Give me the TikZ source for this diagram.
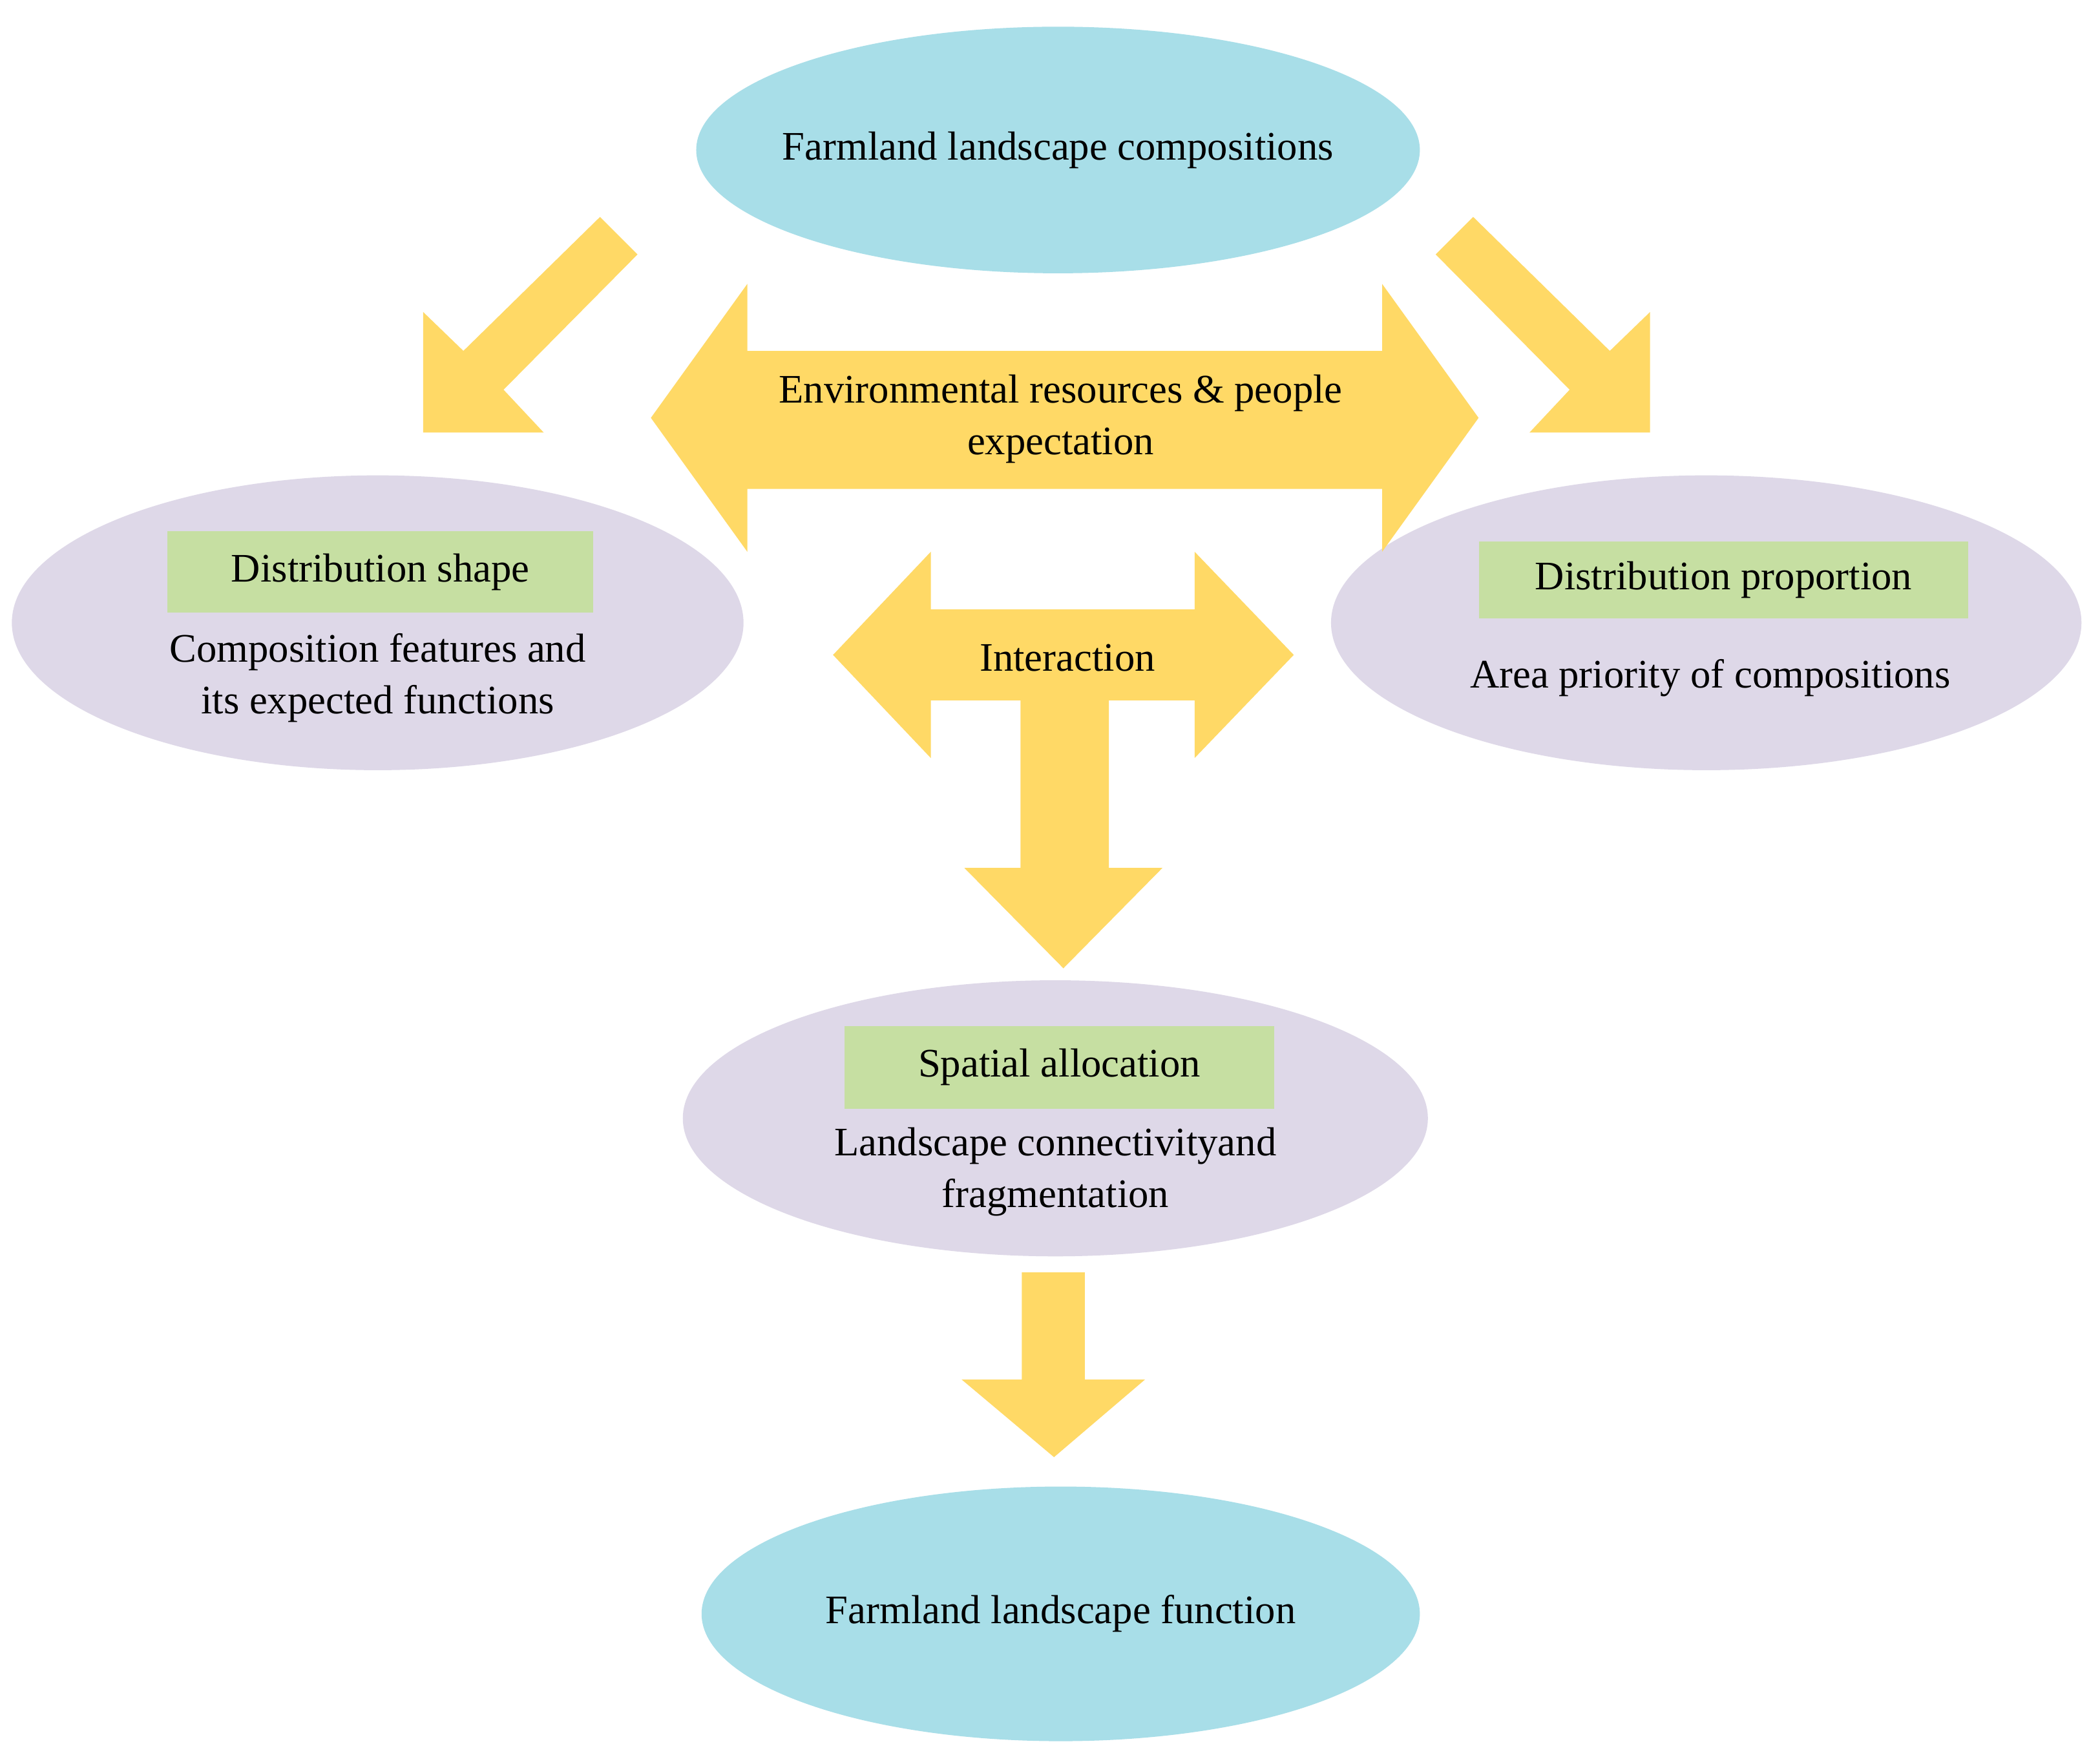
\documentclass[tikz,border=0pt]{standalone}
\usepackage{fontspec}
\setmainfont{Liberation Serif}
\usetikzlibrary{shapes.geometric}
\definecolor{blu}{HTML}{A8DEE8}
\definecolor{pur}{HTML}{DED8E8}
\definecolor{grn}{HTML}{C6DFA2}
\definecolor{yel}{HTML}{FFD966}
\begin{document}
\begin{tikzpicture}[x=0.01cm,y=-0.01cm,
  ell/.style={ellipse,draw=none,inner sep=0pt},
  box/.style={fill=grn,inner sep=0pt},
  arr/.style={fill=yel,draw=none},
  txt/.style={font=\fontsize{8.6}{11}\selectfont,align=center}]
\useasboundingbox (0,0) rectangle (1568,1310);
\fill[white] (0,0) rectangle (1568,1310);
% ellipses
\node[ell,fill=blu,minimum width=5.40cm,minimum height=1.84cm] (top) at (790,112) {};
\node[ell,fill=blu,minimum width=5.36cm,minimum height=1.90cm] (bot) at (792,1205) {};
\node[ell,fill=pur,minimum width=5.46cm,minimum height=2.20cm] (lft) at (282,465) {};
\node[ell,fill=pur,minimum width=5.60cm,minimum height=2.20cm] (rgt) at (1274,465) {};
\node[ell,fill=pur,minimum width=5.56cm,minimum height=2.06cm] (mid) at (788,835) {};
% green boxes
\node[box,minimum width=3.18cm,minimum height=0.61cm] (gl) at (284,427) {};
\node[box,minimum width=3.65cm,minimum height=0.57cm] (gr) at (1287,433) {};
\node[box,minimum width=3.21cm,minimum height=0.62cm] (gm) at (791,797) {};
% arrows
\fill[arr] (448,162)--(476,190)--(376,291)--(406,323)--(316,323)--(316,233)--(346,262)--cycle;
\fill[arr] (1100,162)--(1072,190)--(1172,291)--(1142,323)--(1232,323)--(1232,233)--(1202,262)--cycle;
\fill[arr] (486,312)--(558,212)--(558,262)--(1032,262)--(1032,212)--(1104,312)--(1032,412)--(1032,365)--(558,365)--(558,412)--cycle;
\fill[arr] (622,489)--(695,412)--(695,455)--(892,455)--(892,412)--(966,489)--(892,566)--(892,523)--(828,523)--(828,648)--(868,648)--(794,723)--(720,648)--(762,648)--(762,523)--(695,523)--(695,566)--cycle;
\fill[arr] (763,950)--(810,950)--(810,1030)--(855,1030)--(787,1088)--(718,1030)--(763,1030)--cycle;
% texts
\node[txt] (t1) at (top) {Farmland landscape compositions};
\node[txt] (t2) at (792,313) {Environmental resources \& people\\expectation};
\node[txt] (t3) at (797,491) {Interaction};
\node[txt] (t4) at (gl) {Distribution shape};
\node[txt] (t5) at (282,506) {Composition features and\\its expected functions};
\node[txt] (t6) at (gr) {Distribution proportion};
\node[txt] (t7) at (1277,506) {Area priority of compositions};
\node[txt] (t8) at (gm) {Spatial allocation};
\node[txt] (t9) at (788,875) {Landscape connectivityand\\fragmentation};
\node[txt] (t10) at (bot) {Farmland landscape function};
\end{tikzpicture}
\end{document}
